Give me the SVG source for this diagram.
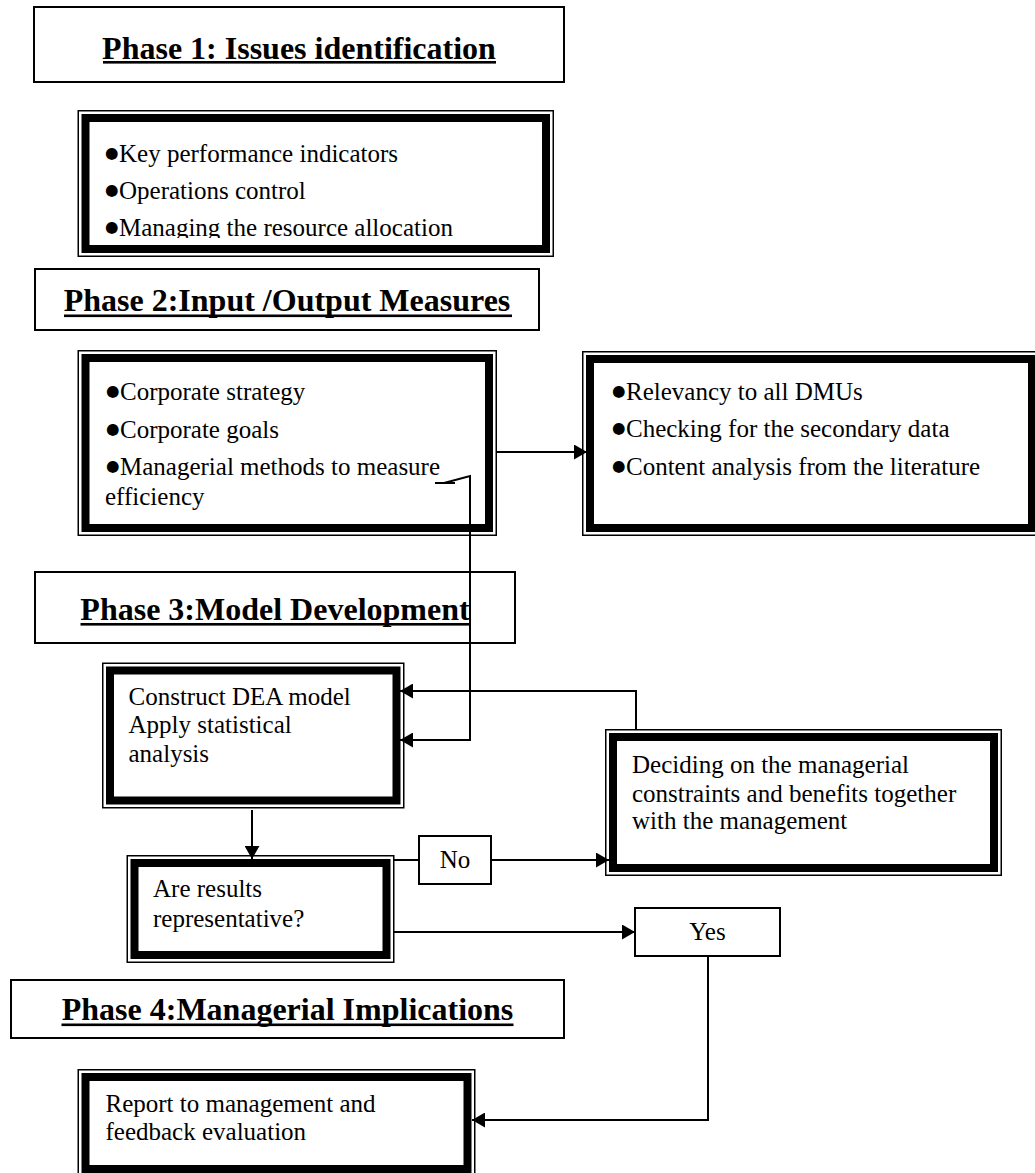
<svg xmlns="http://www.w3.org/2000/svg" width="1035" height="1173" viewBox="0 0 1035 1173">
  <style>
    .ph { fill: #fff; stroke: #000; stroke-width: 2; }
    .thin { fill: #fff; stroke: #000; stroke-width: 1.5; }
    .thick { fill: none; stroke: #000; stroke-width: 8; }
    .ht { font-family: "Liberation Serif", "Times New Roman", serif; font-weight: bold; font-size: 32px; fill: #000; text-anchor: middle; }
    .bt { font-family: "Liberation Serif", "Times New Roman", serif; font-size: 25px; fill: #000; }
    .bul { font-family: "DejaVu Sans", sans-serif; font-size: 15.5px; fill: #000; }
    .ul { fill: #000; }
    .con { fill: none; stroke: #000; stroke-width: 2; }
  </style>
  <defs>
    <marker id="arrow" markerUnits="userSpaceOnUse" markerWidth="13" markerHeight="15" refX="13" refY="7.5" orient="auto">
      <path d="M0,0 L13,7.5 L0,15 z" fill="#000"/>
    </marker>
    <clipPath id="clip-issues">
      <rect x="90" y="122" width="452" height="116"/>
    </clipPath>
  </defs>
  <rect width="1035" height="1173" fill="#fff"/>

  <!-- Phase 1 -->
  <g id="phase1">
    <rect class="ph" x="34" y="7" width="530" height="75"/>
    <text class="ht" x="299" y="59">Phase 1: Issues identification</text>
    <rect class="ul" x="103" y="61" width="393" height="2.6"/>
  </g>

  <g id="issues">
    <rect class="thin" x="78.25" y="110.75" width="475" height="145.5"/>
    <rect class="thick" x="85.5" y="118" width="460.5" height="131"/>
    <g clip-path="url(#clip-issues)">
      <text class="bul" x="105" y="158">●</text>
      <text class="bt" x="119" y="162">Key performance indicators</text>
      <text class="bul" x="105" y="195">●</text>
      <text class="bt" x="119" y="199">Operations control</text>
      <text class="bul" x="105" y="232">●</text>
      <text class="bt" x="119" y="236">Managing the resource allocation</text>
    </g>
  </g>

  <!-- Phase 2 -->
  <g id="phase2">
    <rect class="ph" x="35" y="269" width="504" height="61"/>
    <text class="ht" x="287" y="311">Phase 2:Input /Output Measures</text>
    <rect class="ul" x="64" y="314.5" width="448" height="2.6"/>
  </g>

  <g id="strategy">
    <rect class="thin" x="78.25" y="350.75" width="418" height="184.5"/>
    <rect class="thick" x="85.5" y="358" width="403.5" height="170"/>
    <text class="bul" x="106" y="396">●</text>
    <text class="bt" x="120" y="400">Corporate strategy</text>
    <text class="bul" x="106" y="434">●</text>
    <text class="bt" x="120" y="438">Corporate goals</text>
    <text class="bul" x="106" y="471">●</text>
    <text class="bt" x="120" y="475">Managerial methods to measure</text>
    <text class="bt" x="105" y="505">efficiency</text>
  </g>

  <g id="data-checks">
    <rect class="thin" x="582.75" y="351.75" width="456.5" height="183.5"/>
    <rect class="thick" x="590" y="359" width="442" height="169"/>
    <text class="bul" x="612" y="396">●</text>
    <text class="bt" x="626" y="400">Relevancy to all DMUs</text>
    <text class="bul" x="612" y="433">●</text>
    <text class="bt" x="626" y="437">Checking for the secondary data</text>
    <text class="bul" x="612" y="471">●</text>
    <text class="bt" x="626" y="475">Content analysis from the literature</text>
  </g>

  <!-- Phase 3 -->
  <g id="phase3">
    <rect class="ph" x="35" y="572" width="480" height="71"/>
    <text class="ht" x="275" y="620">Phase 3:Model Development</text>
    <rect class="ul" x="80.5" y="623" width="389" height="2.6"/>
  </g>

  <g id="dea-model">
    <rect class="thin" x="102.75" y="663.25" width="301" height="144.5"/>
    <rect class="thick" x="110" y="670.5" width="286.5" height="130"/>
    <text class="bt" x="128.5" y="705">Construct DEA model</text>
    <text class="bt" x="128.5" y="733">Apply statistical</text>
    <text class="bt" x="128.5" y="762">analysis</text>
  </g>

  <g id="constraints">
    <rect class="thin" x="605.75" y="729.75" width="395.5" height="145.5"/>
    <rect class="thick" x="613" y="737" width="381" height="131"/>
    <text class="bt" x="632" y="773">Deciding on the managerial</text>
    <text class="bt" x="632" y="802">constraints and benefits together</text>
    <text class="bt" x="632" y="829">with the management</text>
  </g>

  <g id="representative">
    <rect class="thin" x="127.25" y="855.75" width="266.5" height="106.5"/>
    <rect class="thick" x="134.5" y="863" width="252" height="92"/>
    <text class="bt" x="153" y="897">Are results</text>
    <text class="bt" x="153" y="927">representative?</text>
  </g>

  <g id="no">
    <rect class="ph" x="419" y="836" width="72" height="48"/>
    <text class="bt" x="455" y="868" text-anchor="middle">No</text>
  </g>

  <g id="yes">
    <rect class="ph" x="635" y="908" width="145" height="48"/>
    <text class="bt" x="707.5" y="940" text-anchor="middle">Yes</text>
  </g>

  <!-- Phase 4 -->
  <g id="phase4">
    <rect class="ph" x="11" y="980" width="553" height="58"/>
    <text class="ht" x="287.5" y="1020">Phase 4:Managerial Implications</text>
    <rect class="ul" x="61.5" y="1023.5" width="452" height="2.6"/>
  </g>

  <g id="report">
    <rect class="thin" x="78.25" y="1069.75" width="396.5" height="104"/>
    <rect class="thick" x="85.5" y="1077" width="382" height="92"/>
    <text class="bt" x="105.5" y="1112">Report to management and</text>
    <text class="bt" x="105.5" y="1140">feedback evaluation</text>
  </g>

  <!-- connectors -->
  <g id="connectors">
    <line class="con" x1="497" y1="452" x2="587" y2="452" marker-end="url(#arrow)"/>
    <line class="con" x1="435" y1="483" x2="455" y2="483"/>
    <polyline class="con" points="444,483 470,476 470,740 400,740" marker-end="url(#arrow)"/>
    <polyline class="con" points="636,729 636,691 400,691" marker-end="url(#arrow)"/>
    <line class="con" x1="252" y1="810" x2="252" y2="859" marker-end="url(#arrow)"/>
    <line class="con" x1="394" y1="860" x2="419" y2="860"/>
    <line class="con" x1="491" y1="860" x2="609" y2="860" marker-end="url(#arrow)"/>
    <line class="con" x1="394" y1="932" x2="635" y2="932" marker-end="url(#arrow)"/>
    <polyline class="con" points="708,956 708,1120 472,1120" marker-end="url(#arrow)"/>
  </g>
</svg>
